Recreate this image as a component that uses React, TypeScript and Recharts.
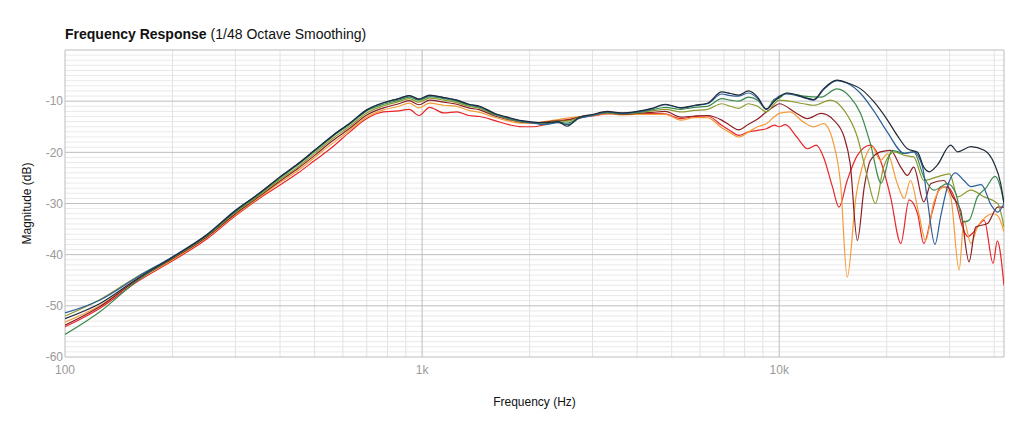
import React from 'react';
import { LineChart, Line, XAxis, YAxis, ReferenceLine } from 'recharts';

// shared frequency grid, 100 Hz - 9.7 kHz
const baseFreq = [
  100, 125, 160, 200, 250, 300, 350, 400, 450, 500, 560, 630, 700, 780, 860, 920, 980, 1050, 1150, 1250,
  1350, 1450, 1600, 1750, 1900, 2050, 2200, 2400, 2550, 2750, 3000, 3300, 3600, 4000, 4400, 4800, 5300,
  5800, 6300, 6900, 7300, 7700, 8200, 8700, 9200, 9700,
];

const darkLow = [
  -52.5, -49.6, -44.6, -40.5, -36.1, -31.4, -28.0, -24.8, -22.2, -19.6, -16.8, -14.2, -11.7, -10.3, -9.5, -8.9,
  -9.6, -8.8, -9.3, -9.8, -10.6, -11.0, -12.4, -13.2, -13.8, -14.1, -14.2, -14.0, -14.9, -13.2, -12.6, -12.0,
  -12.3, -12.0, -11.4, -10.6, -11.3, -10.8, -10.4, -8.2, -8.5, -8.8, -8.0, -9.2, -11.5, -10.0,
];
const blueLow = [
  -51.4, -48.9, -44.3, -40.4, -36.0, -31.3, -28.0, -24.8, -22.2, -19.6, -16.8, -14.2, -11.7, -10.3, -9.5, -8.9,
  -9.6, -8.9, -9.3, -9.8, -10.6, -11.1, -12.5, -13.3, -13.9, -14.3, -14.6, -14.2, -14.6, -13.4, -12.8, -12.1,
  -12.4, -12.1, -11.5, -10.7, -11.3, -10.9, -10.5, -8.6, -8.9, -9.0, -8.4, -9.5, -11.6, -9.8,
];
const greenLow = [
  -55.6, -51.2, -45.0, -40.6, -36.2, -31.6, -28.2, -25.0, -22.4, -19.8, -17.0, -14.4, -11.9, -10.6, -9.8, -9.2,
  -9.8, -9.1, -9.5, -10.0, -10.8, -11.2, -12.6, -13.4, -14.0, -14.2, -14.5, -14.1, -14.3, -13.3, -12.7, -12.2,
  -12.4, -12.2, -11.7, -11.2, -11.6, -11.2, -11.0, -9.5, -9.8, -10.0, -9.2, -9.8, -11.6, -9.6,
];
const oliveLow = [
  -52.0, -48.8, -44.2, -40.6, -36.3, -31.7, -28.4, -25.3, -22.8, -20.2, -17.4, -14.8, -12.3, -10.9, -10.1, -9.5,
  -10.2, -9.4, -9.8, -10.3, -11.0, -11.4, -12.7, -13.5, -14.0, -14.2, -14.3, -13.9, -13.9, -13.2, -12.7, -12.3,
  -12.5, -12.3, -11.9, -11.6, -12.1, -11.8, -11.6, -10.5, -11.0, -11.4, -10.5, -11.0, -12.1, -10.5,
];
const maroonLow = [
  -53.8, -50.2, -44.8, -40.8, -36.5, -32.0, -28.6, -25.6, -23.1, -20.6, -17.8, -15.2, -12.7, -11.3, -10.5, -9.9,
  -10.7, -9.8, -10.2, -10.6, -11.3, -11.7, -12.9, -13.6, -14.1, -14.2, -14.1, -13.8, -13.7, -13.1, -12.7, -12.3,
  -12.6, -12.4, -12.2, -12.0, -13.1, -12.9, -12.8, -13.7, -14.8, -15.6, -14.5, -13.5, -12.1, -11.0,
];
const orangeLow = [
  -53.2, -50.0, -44.9, -41.0, -36.6, -32.2, -28.8, -25.9, -23.5, -21.0, -18.3, -15.6, -13.1, -11.7, -11.0, -10.4,
  -11.3, -10.4, -10.8, -11.0, -11.8, -12.2, -13.2, -13.9, -14.3, -14.3, -14.0, -13.6, -13.3, -13.0, -12.8, -12.4,
  -12.7, -12.6, -12.6, -12.6, -13.7, -13.2, -13.2, -15.2, -16.2, -17.0, -16.0, -15.0, -14.4, -13.0,
];
const redLow = [
  -54.1, -50.5, -45.2, -41.2, -36.9, -32.4, -29.0, -26.4, -24.0, -21.6, -19.0, -15.9, -13.4, -12.1, -11.9, -11.6,
  -12.8, -11.2, -12.3, -12.1, -12.8, -13.0, -13.8, -14.6, -15.0, -15.0, -14.6, -14.0, -13.6, -13.2, -12.9, -12.5,
  -12.5, -12.6, -12.4, -12.5, -13.4, -13.0, -12.9, -14.7, -15.8, -16.7, -16.0, -15.7, -15.4, -14.7,
];

// above 10 kHz each curve has its own points
const darkHiFreq = [10000, 10500, 11700, 12500, 13300, 14500, 15500, 16900, 18400, 20100, 21400, 22850, 24400, 25400, 26300, 27700, 30200, 31600, 34400, 37500, 40000, 41700, 42600];
const darkHiDb = [-9.2, -8.4, -9.2, -9.7, -7.6, -5.9, -6.4, -7.6, -10.1, -13.7, -16.7, -19.3, -20.0, -22.9, -23.8, -22.5, -18.6, -19.9, -18.9, -19.6, -22.2, -26.1, -30.0];

const blueHiFreq = [10000, 10500, 11700, 12500, 13300, 14500, 15500, 16900, 18400, 20100, 22400, 23800, 25200, 26000, 27300, 28300, 29800, 31100, 32900, 34400, 36800, 39200, 40900, 42600];
const blueHiDb = [-9.0, -8.6, -9.3, -9.8, -7.8, -6.0, -6.5, -8.5, -11.9, -16.1, -20.2, -19.9, -22.9, -29.4, -38.0, -32.6, -26.0, -24.0, -25.5, -26.7, -26.3, -30.3, -31.7, -30.0];

const greenHiFreq = [10000, 10500, 11700, 13100, 14500, 15800, 16900, 18000, 19300, 20700, 22400, 23800, 25400, 27100, 29600, 31200, 32800, 34000, 35900, 37900, 40200, 41700, 42600];
const greenHiDb = [-9.4, -8.4, -9.0, -9.2, -7.6, -9.2, -12.4, -18.3, -26.0, -19.6, -20.2, -19.9, -24.8, -27.4, -26.1, -28.0, -33.6, -33.3, -28.7, -27.0, -24.7, -27.0, -30.0];

const oliveHiFreq = [10000, 11700, 12500, 13900, 15200, 16550, 17650, 18600, 19600, 21000, 22400, 23800, 25400, 27700, 30000, 31600, 34400, 37500, 40900, 42600];
const oliveHiDb = [-9.8, -10.5, -10.8, -9.8, -11.8, -17.0, -24.8, -30.0, -22.9, -19.9, -20.6, -20.9, -25.5, -24.8, -24.2, -28.7, -27.4, -28.7, -30.0, -34.6];

const maroonHiFreq = [10000, 11200, 12000, 13100, 14200, 15200, 15800, 16550, 17300, 18000, 19200, 20500, 21900, 22850, 23800, 25400, 26600, 28900, 30600, 32200, 34000, 35500, 38300, 40900, 42600];
const maroonHiDb = [-10.5, -12.4, -13.4, -12.4, -13.7, -17.0, -22.2, -37.2, -26.8, -21.6, -19.9, -19.6, -22.9, -24.5, -22.9, -29.7, -26.1, -25.5, -28.7, -31.3, -41.4, -34.6, -33.9, -30.7, -30.7];

const orangeHiFreq = [10000, 10700, 11700, 12500, 13300, 14200, 14850, 15500, 16400, 17300, 18200, 19200, 20100, 21400, 22400, 23300, 24600, 25700, 27100, 28900, 30200, 31900, 32900, 34400, 35900, 37900, 39600, 40800, 42600];
const orangeHiDb = [-12.4, -12.1, -14.1, -15.0, -14.4, -18.3, -26.1, -44.4, -28.7, -21.6, -18.9, -21.6, -20.3, -26.1, -29.0, -25.5, -32.0, -37.2, -29.7, -26.8, -28.7, -43.0, -33.3, -37.8, -34.6, -32.6, -32.0, -32.3, -35.5];

const redHiFreq = [10000, 10400, 11200, 12000, 12700, 13300, 14100, 14700, 15500, 16550, 18000, 19200, 20500, 21900, 23100, 24400, 25400, 26900, 28300, 29600, 30900, 32600, 33700, 35100, 37500, 39700, 40800, 42600];
const redHiDb = [-15.0, -14.6, -17.0, -19.3, -18.6, -20.9, -26.8, -30.7, -25.5, -20.6, -18.6, -21.6, -28.7, -37.8, -29.3, -32.0, -37.8, -31.3, -26.8, -26.8, -28.7, -34.6, -36.5, -35.5, -33.3, -41.7, -37.3, -46.0];

const xTicks = [100, 1000, 10000];
const yTicks = [-60, -50, -40, -30, -20, -10];

const FMIN = 100;
const FMAX = 42600;

const toPoints = (fs: number[], ds: number[]) => fs.map((f, i) => ({ f, db: ds[i] }));

const series = [
  { key: 'red', color: '#e8262b', data: [...toPoints(baseFreq, redLow), ...toPoints(redHiFreq, redHiDb)] },
  { key: 'orange', color: '#f39c3a', data: [...toPoints(baseFreq, orangeLow), ...toPoints(orangeHiFreq, orangeHiDb)] },
  { key: 'maroon', color: '#8b1e24', data: [...toPoints(baseFreq, maroonLow), ...toPoints(maroonHiFreq, maroonHiDb)] },
  { key: 'olive', color: '#8c9a2f', data: [...toPoints(baseFreq, oliveLow), ...toPoints(oliveHiFreq, oliveHiDb)] },
  { key: 'green', color: '#3b8a4d', data: [...toPoints(baseFreq, greenLow), ...toPoints(greenHiFreq, greenHiDb)] },
  { key: 'blue', color: '#2c5d9b', data: [...toPoints(baseFreq, blueLow), ...toPoints(blueHiFreq, blueHiDb)] },
  { key: 'dark', color: '#1f2a36', data: [...toPoints(baseFreq, darkLow), ...toPoints(darkHiFreq, darkHiDb)] },
];

// grid positions (1 dB minor, decades major)
const minorDb: number[] = [];
for (let v = -59; v < 0; v++) if (v % 10 !== 0) minorDb.push(v);
const majorDb = [-60, -50, -40, -30, -20, -10, 0];
const minorFreq: number[] = [];
for (const d of [100, 1000, 10000]) for (let k = 2; k <= 9; k++) if (d * k < FMAX) minorFreq.push(d * k);
const majorFreq = [100, 1000, 10000, FMAX];

const fmtFreq = (v: number) => (v >= 1000 ? `${v / 1000}k` : `${v}`);

const font = '"Liberation Sans", Arial, Helvetica, sans-serif';

export default function App() {
  return (
    <div style={{ position: 'absolute', left: 0, top: 0, width: 1024, height: 427, background: '#fff', fontFamily: font }}>
      <svg width={1024} height={50} style={{ position: 'absolute', left: 0, top: 0 }}>
        <text x={65} y={39} fontSize={14} fill="#111" fontFamily={font}>
          <tspan fontWeight={600}>Frequency Response</tspan>
          <tspan dx={4}>(1/48 Octave Smoothing)</tspan>
        </text>
      </svg>
      <LineChart width={1024} height={427} margin={{ top: 50, right: 20, bottom: 40, left: 0 }}>
        <XAxis
          dataKey="f"
          type="number"
          scale="log"
          domain={[FMIN, FMAX]}
          ticks={xTicks}
          tickFormatter={fmtFreq}
          allowDataOverflow
          axisLine={false}
          tickLine={false}
          height={30}
          tick={{ fill: '#9a9a9a', fontSize: 12 }}
          label={{ value: 'Frequency (Hz)', position: 'bottom', offset: 10, fill: '#111', fontSize: 12 }}
        />
        <YAxis
          type="number"
          domain={[-60, 0]}
          ticks={yTicks}
          allowDataOverflow
          axisLine={false}
          tickLine={false}
          tickSize={2}
          tickMargin={0}
          width={65}
          tick={{ fill: '#9a9a9a', fontSize: 12 }}
          label={{
            value: 'Magnitude (dB)',
            angle: -90,
            position: 'insideLeft',
            offset: 27,
            fill: '#111',
            fontSize: 12,
            style: { textAnchor: 'middle' },
          }}
        />
        {minorDb.map((v) => (
          <ReferenceLine key={`hm${v}`} y={v} stroke="#e9e9e9" strokeWidth={1} />
        ))}
        {minorFreq.map((v) => (
          <ReferenceLine key={`vm${v}`} x={v} stroke="#e2e2e2" strokeWidth={1} />
        ))}
        {majorDb.map((v) => (
          <ReferenceLine key={`hM${v}`} y={v} stroke="#bdbdbd" strokeWidth={1} />
        ))}
        {majorFreq.map((v) => (
          <ReferenceLine key={`vM${v}`} x={v} stroke="#bdbdbd" strokeWidth={1} />
        ))}
        {series.map((s) => (
          <Line
            key={s.key}
            data={s.data}
            dataKey="db"
            type="monotone"
            stroke={s.color}
            strokeWidth={1.2}
            dot={false}
            activeDot={false}
            isAnimationActive={false}
          />
        ))}
      </LineChart>
    </div>
  );
}
